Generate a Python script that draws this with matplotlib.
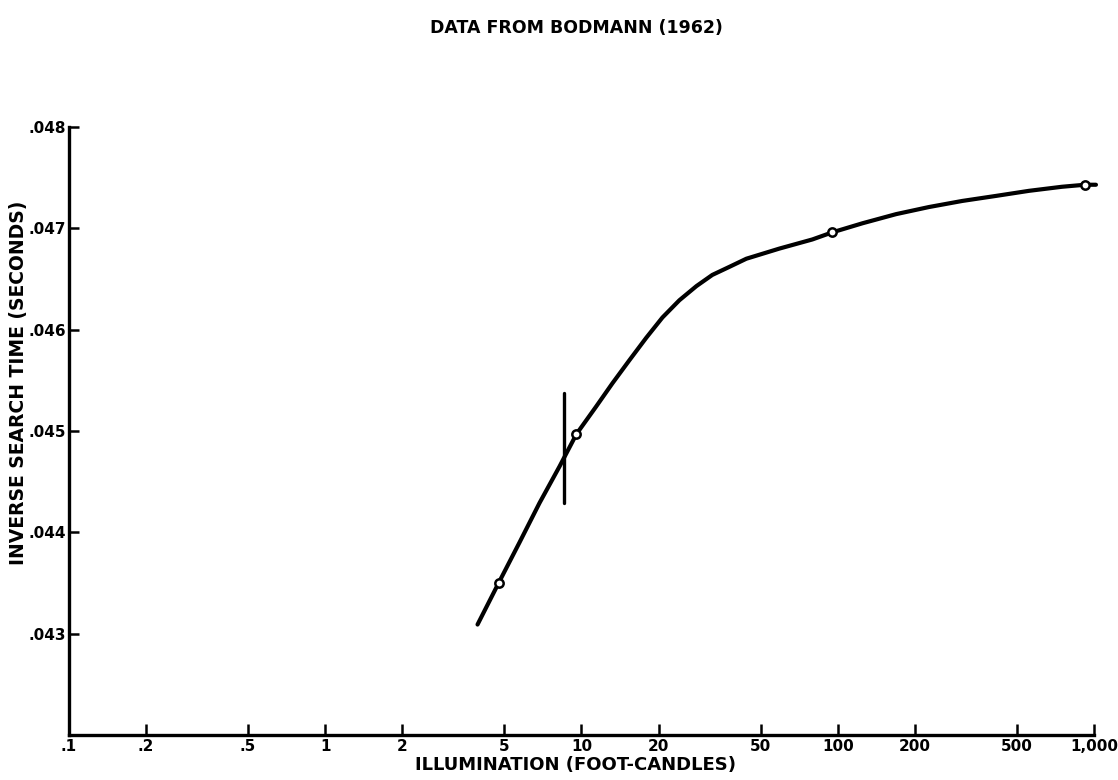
import matplotlib
matplotlib.use("Agg")
import matplotlib.pyplot as plt

# Data
point_x = [4.75, 9.56, 95.2, 922]
point_y = [0.04350, 0.04497, 0.04696, 0.04743]

curve_x = [3.93, 4.75, 5.73, 6.86, 8.21, 9.56, 11.4, 13.2, 15.4, 17.9, 20.7, 24.1,
           28.1, 32.4, 37.8, 44.0, 59.2, 79.6, 95.2, 125, 169, 227, 306, 415,
           558, 750, 922, 1018]
curve_y = [0.04309, 0.04350, 0.04390, 0.04429, 0.04465, 0.04497, 0.04524, 0.04547,
           0.04570, 0.04592, 0.04612, 0.04629, 0.04643, 0.04654, 0.04662, 0.04670,
           0.04680, 0.04689, 0.04696, 0.04705, 0.04714, 0.04721, 0.04727, 0.04732,
           0.04737, 0.04741, 0.04743, 0.04743]

bar_x = [8.51, 8.51]
bar_y = [0.04429, 0.04537]

xticks = [0.1, 0.2, 0.5, 1, 2, 5, 10, 20, 50, 100, 200, 500, 1000]
xtick_labels = ['.1', '.2', '.5', '1', '2', '5', '10', '20', '50', '100', '200', '500', '1,000']
yticks = [0.043, 0.044, 0.045, 0.046, 0.047, 0.048]
ytick_labels = ['.043', '.044', '.045', '.046', '.047', '.048']

plt.rcParams['font.family'] = ['DejaVu Sans']
plt.rcParams['font.weight'] = 'bold'

fig = plt.figure(figsize=(11.18, 7.80), dpi=100)
ax = fig.add_axes([0.0617, 0.0577, 0.9168, 0.7795])

ax.set_xscale('log')
ax.set_xlim(0.1, 1000)
ax.set_ylim(0.042, 0.048)

ax.plot(curve_x, curve_y, color='black', lw=3.0, solid_capstyle='round',
        solid_joinstyle='round', clip_on=False, zorder=3)
ax.plot(bar_x, bar_y, color='black', lw=2.4, solid_capstyle='round', zorder=3)
ax.plot(point_x, point_y, linestyle='none', marker='o', markersize=6,
        markerfacecolor='white', markeredgecolor='black', markeredgewidth=1.8,
        clip_on=False, zorder=4)

for s in ['top', 'right']:
    ax.spines[s].set_visible(False)
for s in ['left', 'bottom']:
    ax.spines[s].set_linewidth(2.4)

ax.set_xticks(xticks)
ax.set_xticklabels(xtick_labels)
ax.xaxis.set_minor_locator(matplotlib.ticker.NullLocator())
ax.set_yticks(yticks)
ax.set_yticklabels(ytick_labels)

ax.tick_params(axis='x', direction='in', length=8, width=1.8, labelsize=11, pad=3)
ax.tick_params(axis='y', direction='in', length=7, width=1.8, labelsize=11, pad=2)

ax.set_xlabel('ILLUMINATION (FOOT-CANDLES)', fontsize=13, fontweight='bold', labelpad=2)
ax.xaxis.set_label_coords(0.494, -0.035)
ax.set_ylabel('INVERSE SEARCH TIME (SECONDS)', fontsize=13.5, fontweight='bold')
ax.yaxis.set_label_coords(-0.04, 0.58)

fig.text(576 / 1118, 1 - 28 / 780, 'DATA FROM BODMANN (1962)', ha='center', va='center',
         fontsize=12.5, fontweight='bold')

fig.savefig('out.png', dpi=100, facecolor='white')
